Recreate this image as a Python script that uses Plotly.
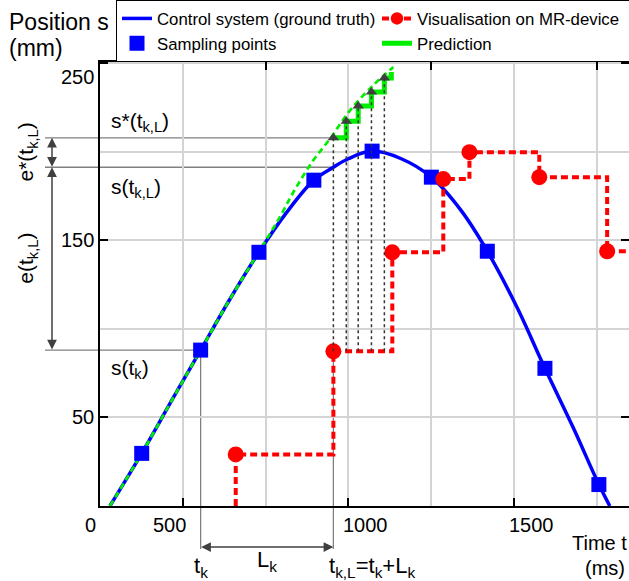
import plotly.graph_objects as go

# ---------------- data ----------------
truth_t = [280, 376, 465, 554, 640, 730, 815, 896, 955, 1000, 1072, 1160, 1251, 1340, 1420, 1510, 1594, 1680, 1757, 1790]
truth_s = [0, 29.7, 59, 88, 116, 143.2, 166, 183.9, 191.2, 196, 200.3, 196, 185.6, 167, 143.8, 112, 77.7, 44, 12.1, 0]

sample_t = [376, 554, 730, 896, 1072, 1251, 1420, 1594, 1757]
sample_s = [29.7, 88, 143.2, 183.9, 200.3, 185.6, 143.8, 77.7, 12.1]

pred_t = [280, 376, 465, 554, 640, 730, 790, 840, 894, 946, 1006, 1076, 1136]
pred_s = [0, 29.7, 59, 88, 116, 143.5, 162, 179, 195, 207.6, 223.4, 237.6, 247.7]

step_t = [955, 994, 1030, 1070, 1109, 1130]
step_s = [207.8, 217.2, 225.7, 233.6, 241.5, 245]

mr_t = [660, 660, 955, 1133, 1287, 1366, 1577, 1782, 1850]
mr_s = [0, 29.1, 87.3, 143.2, 184.5, 199.7, 185.6, 143.8, 143.8]
mr_marker = [0, 16, 16, 16, 16, 16, 16, 16, 0]

t_k, t_kL = 554, 955
s_tk, s_tkL, s_star = 88, 191.2, 207.8

x_range = [250, 1848]
y_range = [0, 250.6]
x_major = [500, 1000, 1500]
x_minor = [250, 750, 1250, 1750]
x_top_ticks = [750, 1250, 1750]
y_major = [50, 150, 250]
y_minor = [100, 200]
x_labels = ["0", "500", "1000", "1500"]
x_label_pos = [250, 500, 1000, 1500]
x_label_shift = [-10, -13, 17, 18]
y_labels = ["50", "150", "250"]
y_label_shift = [0, 0, -14]

# ---------------- layout helpers ----------------
L, T, W, H = 100, 62, 529, 444
FONT = "Liberation Sans, Arial, Helvetica, sans-serif"
def px_x(p):
    return (p - L) / W
def px_y(p):
    return (T + H - p) / H

BLUE = "#0000ff"
RED = "#ff0000"
GREEN = "#00ee00"
GREY = "#808080"
DARK = "#404040"

fig = go.Figure()

fig.add_trace(go.Scatter(x=truth_t, y=truth_s, mode="lines", line=dict(color=BLUE, width=3.5, shape="spline"),
                         name="Control system (ground truth)", legendrank=1))
fig.add_trace(go.Scatter(x=pred_t, y=pred_s, mode="lines", line=dict(color=GREEN, width=2.7, dash="6px,4px", shape="spline"),
                         showlegend=False, hoverinfo="skip"))
fig.add_trace(go.Scatter(x=sample_t, y=sample_s, mode="markers", marker=dict(symbol="square", size=15, color=BLUE),
                         name="Sampling points", legendrank=3))
fig.add_trace(go.Scatter(x=step_t, y=step_s, mode="lines", line=dict(color=GREEN, width=5, shape="hv"),
                         name="Prediction", legendrank=4))
fig.add_trace(go.Scatter(x=step_t[:-1], y=step_s[:-1], mode="markers",
                         marker=dict(symbol="triangle-up", size=10, color=DARK), showlegend=False, hoverinfo="skip"))
fig.add_trace(go.Scatter(x=mr_t, y=mr_s, mode="lines+markers", line=dict(color=RED, width=4, dash="7px,4px", shape="hv"),
                         marker=dict(size=mr_marker, color=RED, opacity=1, line=dict(width=0)), cliponaxis=False,
                         name="Visualisation on MR-device", legendrank=2))
fig.add_trace(go.Scatter(x=[], y=[], xaxis="x2", showlegend=False))

shapes = []
def line(**kw):
    d = dict(type="line", line=dict(color=GREY, width=1.3), layer="below")
    d.update(kw)
    shapes.append(d)

# horizontal reference lines (outside part + inside part)
for yv, xend in [(s_star, t_kL), (s_tkL, t_kL), (s_tk, t_k)]:
    line(xref="paper", yref="y", x0=px_x(45), x1=0, y0=yv, y1=yv)
    line(xref="x", yref="y", x0=x_range[0], x1=xend, y0=yv, y1=yv)
# vertical reference lines
for xv, ytop in [(t_k, s_tk), (t_kL, mr_s[2])]:
    line(xref="x", yref="paper", x0=xv, x1=xv, y0=px_y(549), y1=0)
    line(xref="x", yref="y", x0=xv, x1=xv, y0=0, y1=ytop)
# dotted lines from visualisation level up to predictions
for xv, yv in zip(step_t[:-1], step_s[:-1]):
    shapes.append(dict(type="line", xref="x", yref="y", x0=xv, x1=xv, y0=mr_s[2], y1=yv,
                       line=dict(color="#333333", width=1.5, dash="dot"), layer="above"))

annotations = []
def text(t, **kw):
    d = dict(text=t, showarrow=False, font=dict(family=FONT, size=21, color="black"))
    d.update(kw)
    annotations.append(d)

# tick labels
for lab, xv, sh in zip(x_labels, x_label_pos, x_label_shift):
    text(lab, xref="x", yref="paper", x=xv, y=0, xshift=sh, yshift=-19, yanchor="middle", font=dict(family=FONT, size=20, color="black"))
for lab, yv, sh in zip(y_labels, y_major, y_label_shift):
    text(lab, xref="paper", yref="y", x=0, y=yv, xshift=-4, yshift=sh, xanchor="right", yanchor="middle",
         font=dict(family=FONT, size=20, color="black"))

# axis titles
text("Position s", xref="paper", yref="paper", x=px_x(7), y=px_y(22), xanchor="left", yanchor="middle", font=dict(family=FONT, size=23, color="black"))
text("(mm)", xref="paper", yref="paper", x=px_x(7), y=px_y(48), xanchor="left", yanchor="middle", font=dict(family=FONT, size=23, color="black"))
text("Time t", xref="paper", yref="paper", x=1, y=px_y(543), xanchor="right", yanchor="middle", font=dict(family=FONT, size=20, color="black"))
text("(ms)", xref="paper", yref="paper", x=1, y=px_y(568), xshift=-2, xanchor="right", yanchor="middle", font=dict(family=FONT, size=20, color="black"))

# in-plot labels
text("s*(t<sub>k,L</sub>)", xref="paper", yref="y", x=0, y=s_star, xshift=9, yshift=16, xanchor="left", yanchor="middle")
text("s(t<sub>k,L</sub>)", xref="paper", yref="y", x=0, y=s_tkL, xshift=9, yshift=-21, xanchor="left", yanchor="middle")
text("s(t<sub>k</sub>)", xref="paper", yref="y", x=0, y=s_tk, xshift=9, yshift=-19, xanchor="left", yanchor="middle")
text("e*(t<sub>k,L</sub>)", xref="paper", yref="y", x=px_x(27), y=(s_star + s_tkL) / 2, textangle=-90, xanchor="center", yanchor="middle")
text("e(t<sub>k,L</sub>)", xref="paper", yref="y", x=px_x(27), y=(s_tkL + s_tk) / 2, textangle=-90, xanchor="center", yanchor="middle")
text("t<sub>k</sub>", xref="x", yref="paper", x=t_k, y=px_y(567), xanchor="center", yanchor="middle", font=dict(family=FONT, size=22, color="black"))
text("L<sub>k</sub>", xref="x", yref="paper", x=(t_k + t_kL) / 2, y=px_y(561), xanchor="center", yanchor="middle", font=dict(family=FONT, size=22, color="black"))
text("t<sub>k,L</sub>=t<sub>k</sub>+L<sub>k</sub>", xref="x", yref="paper", x=t_kL, xshift=-6, y=px_y(567), xanchor="left", yanchor="middle", font=dict(family=FONT, size=22, color="black"))

# arrows
arrow_common = dict(text="", showarrow=True, arrowhead=2, arrowsize=1.3, arrowwidth=1.5, arrowcolor=DARK,
                    arrowside="end+start", standoff=0, startstandoff=0, font=dict(size=1), borderpad=0)
annotations.append(dict(xref="paper", yref="y", x=px_x(52), y=s_star, axref="pixel", ax=0, ayref="y", ay=s_tkL, **arrow_common))
annotations.append(dict(xref="paper", yref="y", x=px_x(52), y=s_tkL, axref="pixel", ax=0, ayref="y", ay=s_tk, **arrow_common))
annotations.append(dict(xref="x", yref="paper", x=t_kL, y=px_y(547), axref="x", ax=t_k, ayref="pixel", ay=0, **arrow_common))

axis_common = dict(showline=True, linecolor="black", linewidth=1.5, zeroline=False,
                   ticks="inside", ticklen=8, tickwidth=1.5, tickcolor="black", showticklabels=False,
                   gridcolor="#d4d4d4", gridwidth=1.5, showgrid=True)

fig.update_layout(
    width=629, height=581,
    margin=dict(l=L, r=629 - L - W, t=T, b=581 - T - H, pad=0, autoexpand=False),
    paper_bgcolor="white", plot_bgcolor="white",
    font=dict(family=FONT, color="black"),
    xaxis=dict(range=x_range, tickvals=x_major, mirror=True,
               minor=dict(tickvals=x_minor, showgrid=True, gridcolor="#d4d4d4", gridwidth=1.5, ticks=""),
               **axis_common),
    xaxis2=dict(range=x_range, overlaying="x", side="top", anchor="y", tickvals=x_top_ticks, ticks="inside",
                ticklen=8, tickwidth=1.5, tickcolor="black", showticklabels=False, showgrid=False,
                zeroline=False, showline=False),
    yaxis=dict(range=y_range, tickvals=y_major, mirror="ticks",
               minor=dict(tickvals=y_minor, showgrid=True, gridcolor="#d4d4d4", gridwidth=1.5, ticks=""),
               **axis_common),
    legend=dict(orientation="h", x=px_x(116), y=1, xanchor="left", yanchor="bottom",
                bgcolor="white", bordercolor="black", borderwidth=1, entrywidth=215,
                font=dict(family=FONT, size=16.8, color="black"), traceorder="normal"),
    shapes=shapes, annotations=annotations, showlegend=True,
)

fig.write_html("out.html")
